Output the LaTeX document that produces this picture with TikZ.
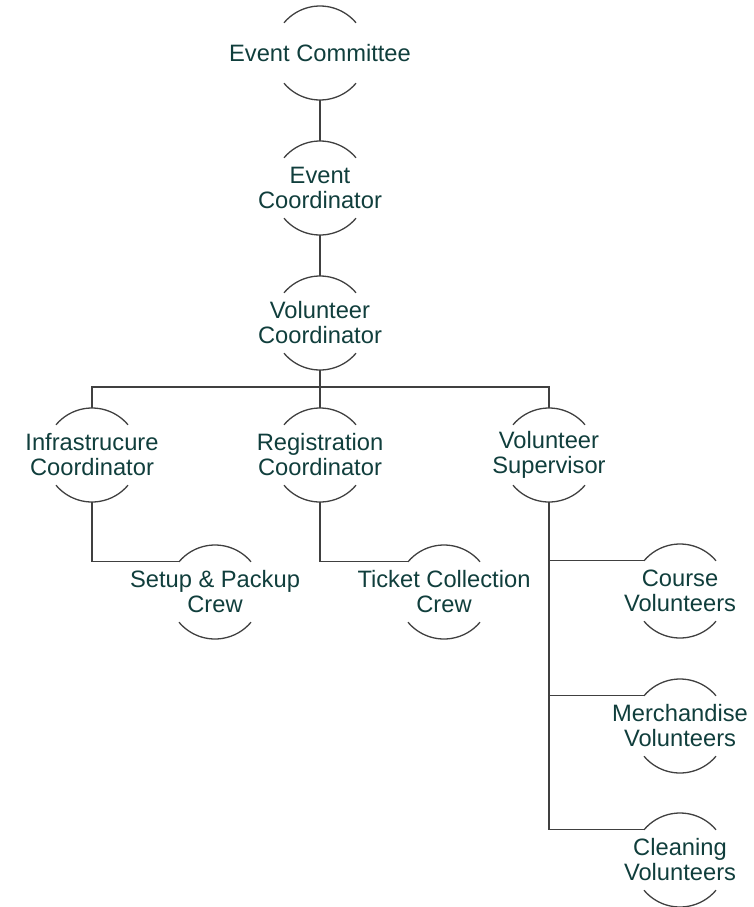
\documentclass[tikz,border=0pt]{standalone}
\usepackage{fontspec}
\setmainfont{Liberation Sans}
\definecolor{txtteal}{RGB}{16,62,60}
\definecolor{linegray}{RGB}{64,64,64}
\tikzset{
	roletext/.style={align=center,inner sep=0pt,text=txtteal,font=\fontsize{23.7}{25}\selectfont},
	role/.style={circle,minimum size=94pt,inner sep=0pt,outer sep=0pt,
		label={[roletext]center:#1}},
	link/.style={draw=linegray,line width=1.3pt}
}
\begin{document}
\begin{tikzpicture}[x=1pt,y=1pt,line cap=butt,line join=miter]
			\useasboundingbox (0,0) rectangle (754,-907);
			\node[role={Event Committee}] (ec) at (320,-53) {};
			\node[role={Event\\Coordinator}] (eco) at (320,-188) {};
			\node[role={Volunteer\\Coordinator}] (vc) at (320,-323) {};
			\node[role={Infrastrucure\\Coordinator}] (ic) at (92,-455) {};
			\node[role={Registration\\Coordinator}] (rc) at (320,-455) {};
			\node[role={Volunteer\\Supervisor}] (vs) at (549,-455) {};
			\node[role={Setup \& Packup\\Crew}] (spc) at (215,-592) {};
			\node[role={Ticket Collection\\Crew}] (tcc) at (444,-592) {};
			\node[role={Course\\Volunteers}] (cv) at (680,-591) {};
			\node[role={Merchandise\\Volunteers}] (mv) at (680,-726) {};
			\node[role={Cleaning\\Volunteers}] (clv) at (680,-860) {};
			\coordinate (bus) at (320,-387);
			% open circles: only top and bottom arcs
			\foreach \n in {ec,eco,vc,ic,rc,vs,spc,tcc,cv,mv,clv}{
				\draw[link] (\n.40) arc[start angle=40,end angle=140,radius=47pt]
				(\n.220) arc[start angle=220,end angle=320,radius=47pt];
			}
			\draw[link] (ec) -- (eco);
			\draw[link] (eco) -- (vc);
			\draw[link] (vc) -- (bus);
			\draw[link] (ic.north) |- (bus) -| (vs.north);
			\draw[link] (bus) -- (rc);
			\draw[link] (ic.south) |- (spc.140);
			\draw[link] (rc.south) |- (tcc.140);
			\foreach \n in {cv,mv,clv}{
				\draw[link] (vs.south) |- (\n.140);
			}
		\end{tikzpicture}
\end{document}
